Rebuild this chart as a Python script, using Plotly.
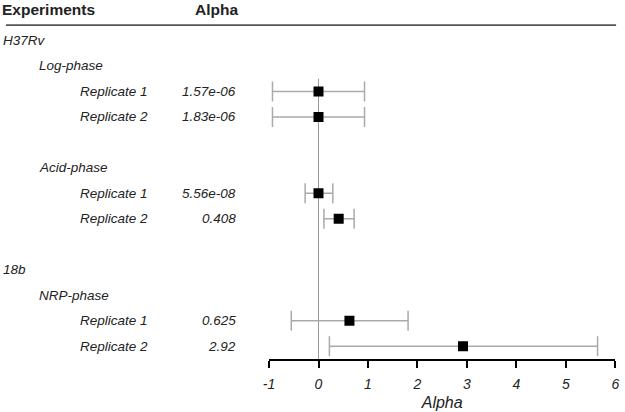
import plotly.graph_objects as go

# rows of the forest plot, top to bottom (row index = vertical slot)
group_labels = ["H37Rv", "18b"]
group_rows = [0, 9]
phase_labels = ["Log-phase", "Acid-phase", "NRP-phase"]
phase_rows = [1, 5, 10]

rep_labels = ["Replicate 1", "Replicate 2", "Replicate 1", "Replicate 2", "Replicate 1", "Replicate 2"]
rep_rows = [2, 3, 6, 7, 11, 12]
alpha_text = ["1.57e-06", "1.83e-06", "5.56e-08", "0.408", "0.625", "2.92"]
alpha = [1.57e-06, 1.83e-06, 5.56e-08, 0.408, 0.625, 2.92]
ci_low = [-0.93, -0.93, -0.27, 0.11, -0.55, 0.22]
ci_high = [0.93, 0.93, 0.29, 0.72, 1.81, 5.64]

x_ticks = [-1, 0, 1, 2, 3, 4, 5, 6]
x_tick_text = ["-1", "0", "1", "2", "3", "4", "5", "6"]

W, H = 625, 412
FONT = "Liberation Sans, Arial, sans-serif"
TXT = "#222222"

fig = go.Figure()

fig.add_trace(go.Scatter(
    x=alpha,
    y=rep_rows,
    mode="markers",
    marker=dict(symbol="square", size=10, color="black"),
    error_x=dict(
        type="data",
        symmetric=False,
        array=[h - a for h, a in zip(ci_high, alpha)],
        arrayminus=[a - l for a, l in zip(alpha, ci_low)],
        color="#aaaaaa",
        thickness=1.5,
        width=10,
    ),
    showlegend=False,
    hoverinfo="skip",
))

# vertical reference line at zero
fig.add_shape(type="line", xref="x", yref="y", x0=0, x1=0, y0=1.5, y1=12.5,
              line=dict(color="#999999", width=1), layer="below")

# header row and rule
fig.add_annotation(text="<b>Experiments</b>", xref="paper", yref="y", x=-6 / W, y=-1.2,
                   xanchor="left", yanchor="middle", showarrow=False,
                   font=dict(family=FONT, size=15.5, color=TXT))
fig.add_annotation(text="<b>Alpha</b>", xref="paper", yref="y", x=214 / W, y=-1.2,
                   xanchor="center", yanchor="middle", showarrow=False,
                   font=dict(family=FONT, size=15.5, color=TXT))
fig.add_shape(type="line", xref="paper", yref="y", x0=0, x1=620 / W, y0=-0.6, y1=-0.6,
              line=dict(color="#555555", width=1.8))

label_font = dict(family=FONT, size=13.5, color=TXT, style="italic")

for lab, r in zip(group_labels, group_rows):
    fig.add_annotation(text=lab, xref="paper", yref="y", x=-5 / W, y=r,
                       xanchor="left", yanchor="middle", showarrow=False, font=label_font)
for lab, r in zip(phase_labels, phase_rows):
    fig.add_annotation(text=lab, xref="paper", yref="y", x=32 / W, y=r,
                       xanchor="left", yanchor="middle", showarrow=False, font=label_font)
for lab, val, r in zip(rep_labels, alpha_text, rep_rows):
    fig.add_annotation(text=lab, xref="paper", yref="y", x=73 / W, y=r,
                       xanchor="left", yanchor="middle", showarrow=False, font=label_font)
    fig.add_annotation(text=val, xref="paper", yref="y", x=236 / W, y=r,
                       xanchor="right", yanchor="middle", showarrow=False, font=label_font)

fig.update_xaxes(
    domain=[267.3 / W, 619.3 / W],
    range=[-1, 6],
    tickvals=x_ticks,
    ticktext=x_tick_text,
    ticks="outside",
    ticklen=7,
    tickwidth=1.5,
    tickcolor="black",
    showline=True,
    linecolor="black",
    linewidth=1.5,
    showgrid=False,
    zeroline=False,
    ticklabelstandoff=4,
    tickfont=dict(family=FONT, size=14, color=TXT, style="italic"),
    title=dict(text="Alpha", standoff=6,
               font=dict(family=FONT, size=16, color=TXT, style="italic")),
)
fig.update_yaxes(range=[12.5, -1.588], visible=False, domain=[0, 1])

fig.update_layout(
    width=W,
    height=H,
    margin=dict(l=0, r=0, t=0, b=53),
    plot_bgcolor="white",
    paper_bgcolor="white",
)

# the page body has a default margin; drop it so the figure sits at the corner
fig.write_html("out.html", config={"displayModeBar": False},
               post_script="document.body.style.margin='0';")
